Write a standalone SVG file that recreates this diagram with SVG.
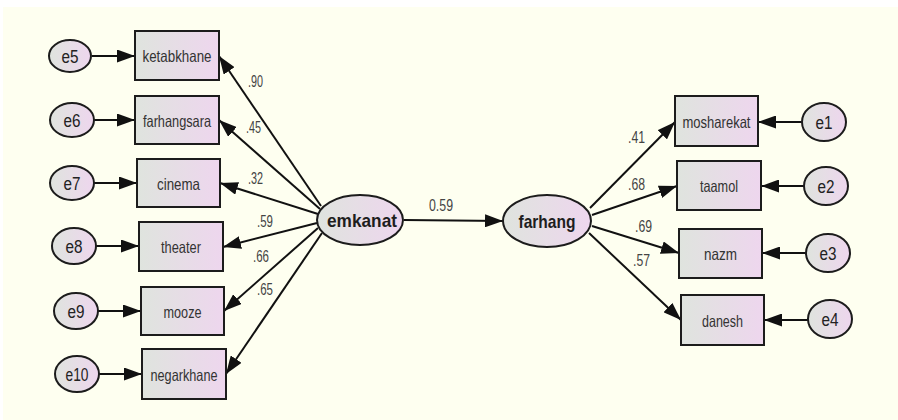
<svg xmlns="http://www.w3.org/2000/svg" width="898" height="420" viewBox="0 0 898 420">
  <defs>
    <linearGradient id="fillGrad" x1="0" y1="0" x2="1" y2="0">
      <stop offset="0" stop-color="#dfe4de"/>
      <stop offset="1" stop-color="#eed6ee"/>
    </linearGradient>
    <marker id="arrow" markerUnits="userSpaceOnUse" markerWidth="18" markerHeight="13" refX="18" refY="6.5" orient="auto">
      <path d="M0,0 L18,6.5 L0,13 z" fill="#111"/>
    </marker>
    <style>
      .box { fill: url(#fillGrad); stroke: #1c1c1c; stroke-width: 2; }
      .err { fill: url(#fillGrad); stroke: #1c1c1c; stroke-width: 2; }
      .lat { fill: url(#fillGrad); stroke: #1c1c1c; stroke-width: 2; }
      .lbl { font-family: "Liberation Sans", Arial, sans-serif; font-size: 16.5px; fill: #333; text-anchor: middle; }
      .elbl { font-family: "Liberation Sans", Arial, sans-serif; font-size: 18px; fill: #222; text-anchor: middle; }
      .latlbl { font-family: "Liberation Sans", Arial, sans-serif; font-size: 19px; font-weight: bold; fill: #1e1e1e; text-anchor: middle; }
      .coef { font-family: "Liberation Sans", Arial, sans-serif; font-size: 16px; fill: #444; }
      .conn line { stroke: #111; stroke-width: 2; marker-end: url(#arrow); }
    </style>
  </defs>

  <!-- canvas -->
  <rect x="0" y="0" width="898" height="420" fill="#ffffff"/>
  <rect x="3" y="7" width="895" height="413" fill="#fefff0"/>

  <!-- connectors -->
  <g id="connectors" class="conn">
    <!-- errors to left indicators -->
    <line x1="92" y1="56" x2="135" y2="56"/>
    <line x1="94" y1="120" x2="135" y2="120"/>
    <line x1="94" y1="183" x2="137" y2="183"/>
    <line x1="96" y1="246" x2="139" y2="246"/>
    <line x1="98" y1="311" x2="141" y2="311"/>
    <line x1="99" y1="374" x2="142" y2="374"/>
    <!-- emkanat loadings -->
    <line x1="321" y1="206" x2="219" y2="56"/>
    <line x1="320" y1="209" x2="219" y2="120"/>
    <line x1="318" y1="214" x2="220" y2="183"/>
    <line x1="317" y1="223" x2="223" y2="247"/>
    <line x1="318" y1="228" x2="224" y2="311"/>
    <line x1="322" y1="233" x2="226" y2="374"/>
    <!-- structural path -->
    <line x1="404" y1="220" x2="503" y2="221"/>
    <!-- farhang loadings -->
    <line x1="590" y1="208" x2="675" y2="122"/>
    <line x1="592" y1="215" x2="677" y2="186"/>
    <line x1="592" y1="226" x2="679" y2="253"/>
    <line x1="589" y1="233" x2="681" y2="320"/>
    <!-- errors to right indicators -->
    <line x1="802" y1="122" x2="758" y2="122"/>
    <line x1="804" y1="186" x2="761" y2="186"/>
    <line x1="806" y1="253" x2="762" y2="253"/>
    <line x1="808" y1="320" x2="764" y2="320"/>
  </g>

  <!-- coefficients -->
  <g id="coefficients">
    <text class="coef" x="248" y="87" textLength="15" lengthAdjust="spacingAndGlyphs">.90</text>
    <text class="coef" x="246" y="133" textLength="15" lengthAdjust="spacingAndGlyphs">.45</text>
    <text class="coef" x="248" y="184" textLength="15" lengthAdjust="spacingAndGlyphs">.32</text>
    <text class="coef" x="257" y="227" textLength="16" lengthAdjust="spacingAndGlyphs">.59</text>
    <text class="coef" x="253" y="262" textLength="16" lengthAdjust="spacingAndGlyphs">.66</text>
    <text class="coef" x="257" y="295" textLength="16" lengthAdjust="spacingAndGlyphs">.65</text>
    <text class="coef" x="429" y="211" textLength="24" lengthAdjust="spacingAndGlyphs">0.59</text>
    <text class="coef" x="628" y="143" textLength="17" lengthAdjust="spacingAndGlyphs">.41</text>
    <text class="coef" x="628" y="190" textLength="17" lengthAdjust="spacingAndGlyphs">.68</text>
    <text class="coef" x="635" y="232" textLength="17" lengthAdjust="spacingAndGlyphs">.69</text>
    <text class="coef" x="633" y="266" textLength="17" lengthAdjust="spacingAndGlyphs">.57</text>
  </g>

  <!-- error terms, left -->
  <g id="e5"><ellipse class="err" cx="70" cy="56" rx="21" ry="16"/><text class="elbl" x="70" y="62.5" textLength="17" lengthAdjust="spacingAndGlyphs">e5</text></g>
  <g id="e6"><ellipse class="err" cx="72" cy="120" rx="22" ry="17"/><text class="elbl" x="72" y="126.5" textLength="17" lengthAdjust="spacingAndGlyphs">e6</text></g>
  <g id="e7"><ellipse class="err" cx="72" cy="183" rx="22" ry="17"/><text class="elbl" x="72" y="189.5" textLength="17" lengthAdjust="spacingAndGlyphs">e7</text></g>
  <g id="e8"><ellipse class="err" cx="74" cy="246" rx="22" ry="18"/><text class="elbl" x="74" y="252.5" textLength="17" lengthAdjust="spacingAndGlyphs">e8</text></g>
  <g id="e9"><ellipse class="err" cx="76" cy="311" rx="22" ry="18"/><text class="elbl" x="76" y="317.5" textLength="17" lengthAdjust="spacingAndGlyphs">e9</text></g>
  <g id="e10"><ellipse class="err" cx="77" cy="374" rx="22" ry="18"/><text class="elbl" x="77" y="380.5" textLength="23" lengthAdjust="spacingAndGlyphs">e10</text></g>

  <!-- indicators, left -->
  <g id="ketabkhane"><rect class="box" x="135" y="31" width="84" height="49"/><text class="lbl" x="177" y="61.5" textLength="69" lengthAdjust="spacingAndGlyphs">ketabkhane</text></g>
  <g id="farhangsara"><rect class="box" x="135" y="96" width="84" height="48"/><text class="lbl" x="177" y="126.5" textLength="68" lengthAdjust="spacingAndGlyphs">farhangsara</text></g>
  <g id="cinema"><rect class="box" x="137" y="159" width="83" height="48"/><text class="lbl" x="178.5" y="189.5" textLength="43" lengthAdjust="spacingAndGlyphs">cinema</text></g>
  <g id="theater"><rect class="box" x="139" y="222" width="84" height="49"/><text class="lbl" x="181" y="252.5" textLength="40" lengthAdjust="spacingAndGlyphs">theater</text></g>
  <g id="mooze"><rect class="box" x="141" y="287" width="83" height="48"/><text class="lbl" x="182.5" y="317.5" textLength="38" lengthAdjust="spacingAndGlyphs">mooze</text></g>
  <g id="negarkhane"><rect class="box" x="142" y="349" width="84" height="50"/><text class="lbl" x="184" y="380.5" textLength="67" lengthAdjust="spacingAndGlyphs">negarkhane</text></g>

  <!-- latent variables -->
  <g id="emkanat"><ellipse class="lat" cx="360" cy="220" rx="43" ry="25"/><text class="latlbl" x="362" y="227" textLength="70" lengthAdjust="spacingAndGlyphs">emkanat</text></g>
  <g id="farhang"><ellipse class="lat" cx="547" cy="221" rx="44" ry="26"/><text class="latlbl" x="547" y="228" textLength="57" lengthAdjust="spacingAndGlyphs">farhang</text></g>

  <!-- indicators, right -->
  <g id="mosharekat"><rect class="box" x="675" y="96" width="83" height="50"/><text class="lbl" x="716.5" y="127.5" textLength="68" lengthAdjust="spacingAndGlyphs">mosharekat</text></g>
  <g id="taamol"><rect class="box" x="677" y="161" width="84" height="49"/><text class="lbl" x="719" y="191.5" textLength="38" lengthAdjust="spacingAndGlyphs">taamol</text></g>
  <g id="nazm"><rect class="box" x="679" y="229" width="83" height="49"/><text class="lbl" x="720.5" y="259.5" textLength="33" lengthAdjust="spacingAndGlyphs">nazm</text></g>
  <g id="danesh"><rect class="box" x="681" y="295" width="83" height="50"/><text class="lbl" x="722.5" y="326.5" textLength="41" lengthAdjust="spacingAndGlyphs">danesh</text></g>

  <!-- error terms, right -->
  <g id="e1"><ellipse class="err" cx="824" cy="122" rx="22" ry="19"/><text class="elbl" x="824" y="128.5" textLength="17" lengthAdjust="spacingAndGlyphs">e1</text></g>
  <g id="e2"><ellipse class="err" cx="826" cy="186" rx="22" ry="19"/><text class="elbl" x="826" y="192.5" textLength="17" lengthAdjust="spacingAndGlyphs">e2</text></g>
  <g id="e3"><ellipse class="err" cx="828" cy="253" rx="22" ry="19"/><text class="elbl" x="828" y="259.5" textLength="17" lengthAdjust="spacingAndGlyphs">e3</text></g>
  <g id="e4"><ellipse class="err" cx="830" cy="319" rx="22" ry="19"/><text class="elbl" x="830" y="325.5" textLength="17" lengthAdjust="spacingAndGlyphs">e4</text></g>
</svg>
